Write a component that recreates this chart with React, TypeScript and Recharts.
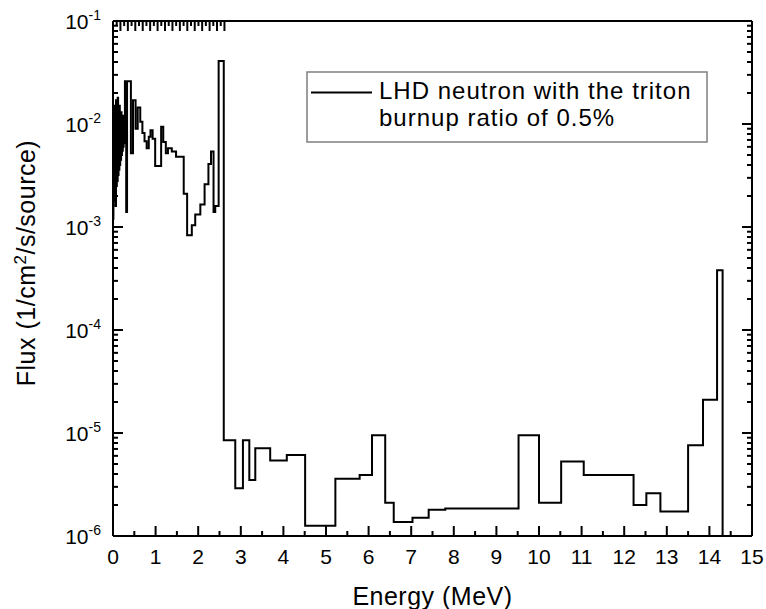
import { LineChart, Line, XAxis, YAxis } from 'recharts';

// bin start energies (MeV) and flux of each bin
const ENERGY = [
  0.0, 0.01, 0.02, 0.03, 0.04, 0.05, 0.06, 0.07, 0.08, 0.09, 0.1, 0.11, 0.12, 0.13,
  0.14, 0.15, 0.16, 0.17, 0.18, 0.19, 0.2, 0.21, 0.22, 0.23, 0.24, 0.25, 0.26, 0.27,
  0.28, 0.31, 0.33, 0.42, 0.47, 0.53, 0.58, 0.64, 0.69, 0.74, 0.79, 0.84, 0.88, 0.93,
  0.99, 1.13, 1.18, 1.24, 1.29, 1.38, 1.48, 1.66, 1.74, 1.85, 1.93, 2.05, 2.15, 2.24,
  2.3, 2.36, 2.4, 2.48, 2.6, 2.87, 3.05, 3.2, 3.34, 3.69, 4.08, 4.51, 5.22, 5.79,
  6.08, 6.39, 6.59, 7.03, 7.41, 7.8, 9.52, 10.0, 10.52, 11.05, 12.22, 12.52, 12.85,
  13.5, 13.85, 14.18, 14.31,
];
const FLUX = [
  0.0012, 0.012, 0.0018, 0.015, 0.0022, 0.013, 0.0016, 0.017, 0.0025, 0.014, 0.0028,
  0.018, 0.0032, 0.013, 0.0036, 0.015, 0.004, 0.012, 0.0045, 0.013, 0.005, 0.0115,
  0.0055, 0.012, 0.006, 0.0105, 0.0065, 0.01,
  0.026, 0.0014, 0.026, 0.0052, 0.017, 0.009, 0.0145, 0.0105, 0.0082, 0.0068, 0.0058,
  0.0075, 0.0087, 0.0072, 0.0039, 0.0094, 0.0067, 0.0052, 0.0058, 0.0054, 0.0048,
  0.0021, 0.00083, 0.00104, 0.00132, 0.00165, 0.0026, 0.0041, 0.0054, 0.0014, 0.0016,
  0.041, 8.5e-6, 2.9e-6, 8.5e-6, 3.5e-6, 7.1e-6, 5.4e-6, 6.1e-6, 1.26e-6, 3.6e-6,
  3.9e-6, 9.5e-6, 2.1e-6, 1.37e-6, 1.5e-6, 1.8e-6, 1.85e-6, 9.5e-6, 2.1e-6, 5.3e-6,
  3.9e-6, 2.0e-6, 2.6e-6, 1.73e-6, 7.6e-6, 2.1e-5, 3.8e-4, 1e-8,
];

const X_TICKS = [
  0, 0.5, 1, 1.5, 2, 2.5, 3, 3.5, 4, 4.5, 5, 5.5, 6, 6.5, 7, 7.5, 8, 8.5, 9, 9.5,
  10, 10.5, 11, 11.5, 12, 12.5, 13, 13.5, 14, 14.5, 15,
];
const DECADES = [1e-6, 1e-5, 1e-4, 1e-3, 1e-2];
const MULTIPLIERS = [1, 2, 3, 4, 5, 6, 7, 8, 9];
const Y_TICKS = [...DECADES.flatMap((d) => MULTIPLIERS.map((m) => m * d)), 1e-1];

const SERIES_NAME = ['LHD neutron with the triton', 'burnup ratio of 0.5%'];

const data = ENERGY.map((e, i) => ({ energy: e, flux: FLUX[i] }));

const FONT = '"Liberation Sans", Arial, sans-serif';

const isDecade = (v: number) => Math.abs(Math.log10(v) - Math.round(Math.log10(v))) < 1e-6;

function BottomTick({ x, y, payload }: any) {
  const major = Number.isInteger(payload.value);
  return (
    <g>
      <line x1={x} x2={x} y1={y} y2={y - (major ? 10 : 5)} stroke="#000" strokeWidth={2} />
      {major && (
        <text x={x} y={y + 28} textAnchor="middle" fontSize={21} fontFamily={FONT} fill="#000">
          {payload.value}
        </text>
      )}
    </g>
  );
}

function TopTick({ x, y, payload }: any) {
  const major = Number.isInteger(payload.value);
  return <line x1={x} x2={x} y1={y} y2={y + (major ? 10 : 5)} stroke="#000" strokeWidth={2} />;
}

function LeftTick({ x, y, payload }: any) {
  const major = isDecade(payload.value);
  return (
    <g>
      <line x1={x} x2={x + (major ? 10 : 5)} y1={y} y2={y} stroke="#000" strokeWidth={2} />
      {major && (
        <text x={x - 12} y={y + 7.5} textAnchor="end" fontSize={21} fontFamily={FONT} fill="#000">
          10
          <tspan dy={-9} fontSize={14}>
            {String(Math.round(Math.log10(payload.value)))}
          </tspan>
        </text>
      )}
    </g>
  );
}

function RightTick({ x, y, payload }: any) {
  const major = isDecade(payload.value);
  return <line x1={x} x2={x - (major ? 10 : 5)} y1={y} y2={y} stroke="#000" strokeWidth={2} />;
}

export default function App() {
  return (
    <div style={{ position: 'absolute', left: 0, top: 0, width: 766, height: 609, background: '#fff' }}>
      <LineChart width={766} height={609} data={data} margin={{ top: 20, right: 13, bottom: 33, left: 53 }}>
        <XAxis
          xAxisId="b"
          dataKey="energy"
          type="number"
          domain={[0, 15]}
          ticks={X_TICKS}
          interval={0}
          height={40}
          tickSize={0}
          tickMargin={0}
          tickLine={false}
          axisLine={{ stroke: '#000', strokeWidth: 2 }}
          tick={(p: any) => <BottomTick {...p} />}
          allowDataOverflow
        />
        <XAxis
          xAxisId="t"
          orientation="top"
          type="number"
          domain={[0, 15]}
          ticks={X_TICKS}
          interval={0}
          height={1}
          tickSize={0}
          tickMargin={0}
          tickLine={false}
          axisLine={{ stroke: '#000', strokeWidth: 2 }}
          tick={(p: any) => <TopTick {...p} />}
        />
        <YAxis
          yAxisId="l"
          type="number"
          scale="log"
          domain={[1e-6, 1e-1]}
          ticks={Y_TICKS}
          interval={0}
          width={60}
          tickSize={0}
          tickMargin={0}
          tickLine={false}
          axisLine={{ stroke: '#000', strokeWidth: 2 }}
          tick={(p: any) => <LeftTick {...p} />}
          allowDataOverflow
        />
        <YAxis
          yAxisId="r"
          orientation="right"
          type="number"
          scale="log"
          domain={[1e-6, 1e-1]}
          ticks={Y_TICKS}
          interval={0}
          width={1}
          tickSize={0}
          tickMargin={0}
          tickLine={false}
          axisLine={{ stroke: '#000', strokeWidth: 2 }}
          tick={(p: any) => <RightTick {...p} />}
          allowDataOverflow
        />
        <Line
          xAxisId="b"
          yAxisId="l"
          type="stepAfter"
          dataKey="flux"
          stroke="#000"
          strokeWidth={2}
          dot={false}
          activeDot={false}
          isAnimationActive={false}
        />
      </LineChart>
      <svg width={766} height={609} style={{ position: 'absolute', left: 0, top: 0, pointerEvents: 'none' }}>
        <text x={432.5} y={605} textAnchor="middle" fontSize={25} fontFamily={FONT} letterSpacing={0.5} fill="#000">
          Energy (MeV)
        </text>
        <text
          transform="translate(35,263) rotate(-90)"
          textAnchor="middle"
          fontSize={25}
          fontFamily={FONT}
          letterSpacing={0.5}
          fill="#000"
        >
          Flux (1/cm<tspan dy={-9} fontSize={17}>2</tspan>
          <tspan dy={9}>/s/source)</tspan>
        </text>
        <rect x={307} y={72} width={400} height={70} fill="#fff" stroke="#7f7f7f" strokeWidth={1.5} />
        <line x1={311} x2={372} y1={92.5} y2={92.5} stroke="#000" strokeWidth={2} />
        <text x={379} y={99} fontSize={24} fontFamily={FONT} letterSpacing={1} fill="#000">
          {SERIES_NAME[0]}
        </text>
        <text x={379} y={126} fontSize={24} fontFamily={FONT} letterSpacing={1} fill="#000">
          {SERIES_NAME[1]}
        </text>
      </svg>
    </div>
  );
}
